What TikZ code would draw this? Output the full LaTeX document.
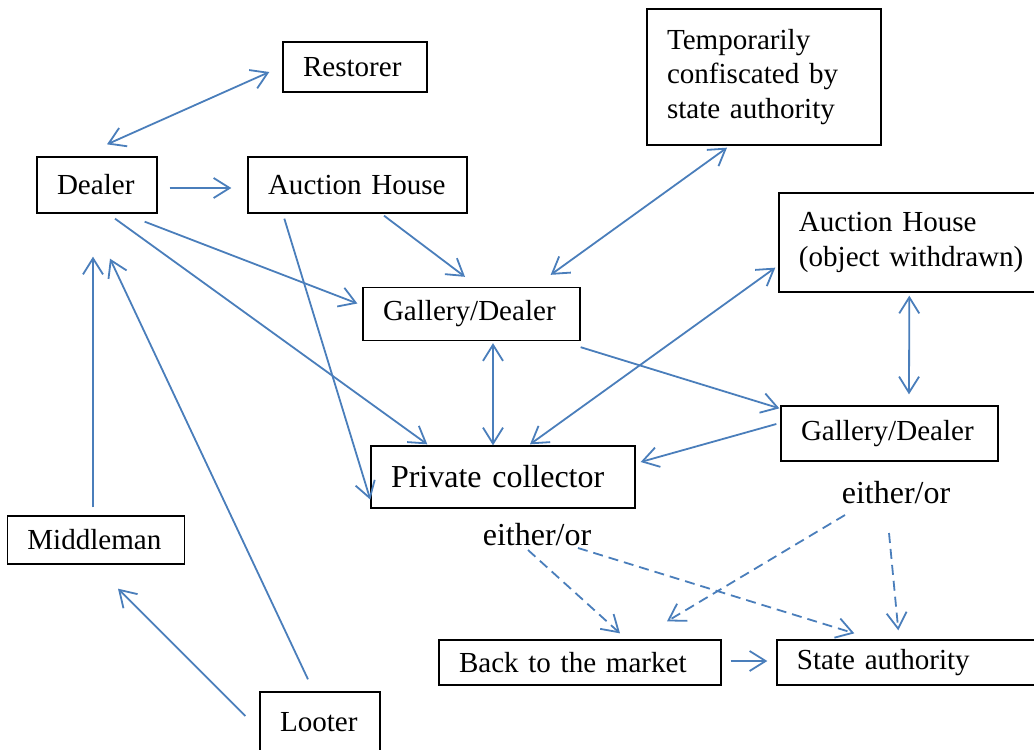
\documentclass[tikz,border=0pt]{standalone}
\usepackage{fontspec}
\setmainfont{Liberation Serif}
\usepackage{xcolor}
\usepackage{tikz}
\usetikzlibrary{arrows.meta,positioning,calc}

\definecolor{flowblue}{RGB}{74,126,187}
\newcommand{\boxfont}{\fontsize{21.8}{26}\selectfont}
\newcommand{\bigboxfont}{\fontsize{24}{28}\selectfont}

\begin{document}
\begin{tikzpicture}[x=0.75pt, y=-0.75pt,
    >={Straight Barb[length=12pt,width=15pt]},
    stage/.style={draw, line width=1pt, align=left, inner xsep=15pt, inner ysep=0pt, font=\boxfont},
    flow/.style={draw=flowblue, line width=1.35pt},
    maybe/.style={flow, dash pattern=on 7.5pt off 4.5pt},
    choice/.style={inner sep=0pt, font=\bigboxfont}]
    \useasboundingbox (0,0) rectangle (1034,749);

    % Boxes
    \node[stage, text width=78pt, minimum height=37.5pt] (restorer) at (355,67) {Restorer};
    \node[stage, text width=145.5pt, minimum height=102pt] (confiscated) at (764,77)
        {Temporarily\\ confiscated by\\ state authority};
    \node[stage, text width=60pt, minimum height=42pt] (dealer) at (97,185) {Dealer};
    \node[stage, text width=134.25pt, minimum height=42pt] (auction) at (357.5,185) {Auction House};
    \node[stage, text width=170pt, minimum height=74.25pt] (withdrawn) at (912.3,242.5)
        {Auction House\\ (object withdrawn)};
    \node[stage, text width=132.75pt, minimum height=39.75pt] (gallery) at (471.5,314) {Gallery/Dealer};
    \node[stage, text width=132.75pt, minimum height=41.25pt] (gallerytwo) at (889.5,433.5) {Gallery/Dealer};
    \node[stage, text width=168pt, minimum height=46.5pt, font=\bigboxfont] (collector) at (503,477) {Private collector};
    \node[stage, text width=103pt, minimum height=36pt] (middleman) at (96,540) {Middleman};
    \node[stage, text width=181.5pt, minimum height=33.75pt] (market) at (580,662.5) {Back to the market};
    \node[stage, text width=170pt, minimum height=33.75pt] (stateauth) at (910.3,662.5) {State authority};
    \node[stage, text width=60pt, minimum height=45pt] (looter) at (320,722) {Looter};

    % either/or labels
    \node[choice] (eitherleft) at (537,535) {either/or};
    \node[choice] (eitherright) at (896,493) {either/or};

    % Trade routes
    \draw[flow, <->] ($(dealer.north)+(10,-12)$) -- ($(restorer.west)+(-13,5)$);
    \draw[flow, ->] ($(dealer.east)+(12,3)$) -- ($(auction.west)+(-16,3)$);
    \draw[flow, ->] ($(dealer.south east)+(-13,8)$) -- ($(gallery.west)+(-5,-10.5)$);
    \draw[flow, ->] ($(dealer.south)+(18,5)$) -- ($(collector.north west)+(57,-1)$);
    \draw[flow, ->] ($(auction.south)+(26.5,2)$) -- ($(gallery.north)+(-6.5,-10)$);
    \draw[flow, ->] ($(auction.south west)+(37,5)$) -- ($(collector.south west)+(0,-9)$);
    \draw[flow, <->] ($(confiscated.south)+(-37,2)$) -- ($(gallery.north east)+(-30,-12)$);
    \draw[flow, <->] ($(gallery.south)+(21.5,2)$) -- ($(collector.north)+(-10,0)$);
    \draw[flow, <->] ($(collector.north)+(27,-1)$) -- ($(withdrawn.south west)+(-3,-25)$);
    \draw[flow, ->] ($(gallery.south east)+(0,6)$) -- ($(gallerytwo.north west)+(-1,3)$);
    \draw[flow, ->] ($(gallerytwo.west)+(-4,-9.5)$) -- ($(collector.east)+(5,-15)$);
    \draw[flow, <->] ($(withdrawn.south)+(-3,3)$) -- ($(gallerytwo.north)+(19.5,-11)$);

    % Supply side
    \draw[flow, ->] ($(middleman.north)+(-3,-8)$) -- ($(dealer.south)+(-4,43)$);
    \draw[flow, ->] ($(looter.north)+(-12,-12)$) -- ($(dealer.south)+(13,45)$);
    \draw[flow, ->] ($(looter.west)+(-14,-6)$) -- ($(middleman.south)+(22,24)$);

    % Outcomes
    \draw[maybe, ->] ($(eitherleft)+(-9,15)$) -- ($(market.north)+(40,-6)$);
    \draw[maybe, ->] ($(eitherleft)+(41,13)$) -- ($(stateauth.north west)+(78,-6)$);
    \draw[maybe, ->] ($(eitherright)+(-51,22)$) -- ($(market.north)+(87,-18)$);
    \draw[maybe, ->] ($(eitherright)+(-7,40)$) -- ($(stateauth.north west)+(122,-9)$);
    \draw[flow, ->] ($(market.east)+(9,-1.5)$) -- ($(stateauth.west)+(-9,-1.5)$);
\end{tikzpicture}
\end{document}
